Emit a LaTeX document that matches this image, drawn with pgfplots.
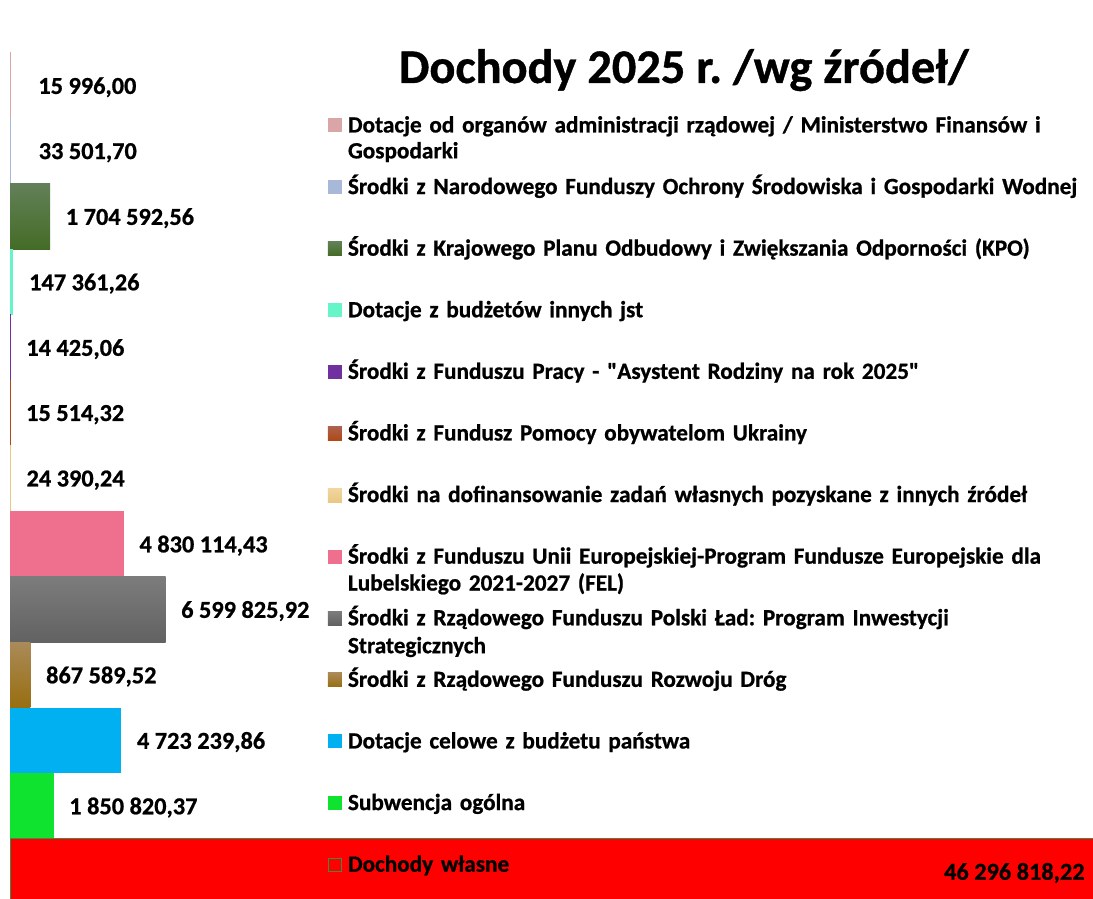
\documentclass[border=0pt]{standalone}
\usepackage{fontspec}
\setmainfont{Carlito}[BoldFeatures={FakeBold=0.8}]
\usepackage{pgfplots}
\pgfplotsset{compat=1.18}
\frenchspacing
\definecolor{cA}{RGB}{217,165,167}
\definecolor{cB}{RGB}{168,184,216}
\definecolor{cCt}{RGB}{98,128,88}
\definecolor{cCb}{RGB}{68,108,38}
\definecolor{cD}{RGB}{102,245,200}
\definecolor{cE}{RGB}{112,48,160}
\definecolor{cFt}{RGB}{172,98,78}
\definecolor{cFb}{RGB}{176,72,20}
\definecolor{cGt}{RGB}{242,214,160}
\definecolor{cGb}{RGB}{232,200,130}
\definecolor{cH}{RGB}{238,112,142}
\definecolor{cIt}{RGB}{124,124,124}
\definecolor{cIb}{RGB}{98,98,98}
\definecolor{cJt}{RGB}{170,138,88}
\definecolor{cJb}{RGB}{152,110,16}
\definecolor{cK}{RGB}{0,176,240}
\definecolor{cL}{RGB}{16,226,48}
\definecolor{cM}{RGB}{255,0,0}
\definecolor{cMedge}{RGB}{60,140,70}
\begin{document}
\begin{tikzpicture}
\path[use as bounding box] (-10bp,0) rectangle (1083bp,899bp);
\begin{axis}[
  at={(0,0)}, anchor=south west,
  scale only axis, width=1083bp, height=846bp,
  xmin=0, xmax=45960000, ymin=-0.42, ymax=12.5,
  clip=false,
  axis line style={draw=none}, ticks=none,
  xbar, bar width=1, bar shift=0,
  point meta=explicit symbolic,
  nodes near coords,
  every node near coord/.append style={font=\bfseries\fontsize{24.4}{28}\selectfont, inner sep=0pt, anchor=west, xshift=15.5bp, yshift=-1.5bp, text=black},
  title={Dochody 2025 r. /wg źródeł/},
  title style={at={(axis description cs:0.6222,0.9575)}, anchor=base, inner sep=0pt, font=\bfseries\fontsize{48.5}{52}\selectfont},
  legend image code/.code={\path[#1,draw=none] (0bp,-5bp) rectangle (14bp,9bp);},
  legend cell align=left,
  legend style={at={(axis description cs:0.2936,0.9238)}, anchor=north west, draw=none, fill=none, inner sep=0pt, outer sep=0pt, row sep=41.6bp, column sep=6bp,
    nodes={inner sep=0pt, text height=15bp, text depth=5bp, text width=760bp, align=left, font=\bfseries\fontsize{23.3}{27}\selectfont}},
]
\addplot[fill=cA, draw=cA, line width=1bp, every node near coord/.append style={xshift=12bp}] coordinates {(15996.00,12) [15 996,00]};
\addlegendentry{{Dotacje od organów administracji rządowej / Ministerstwo Finansów i\\[-1bp]Gospodarki}}
\addplot[fill=cB, draw=cB, line width=1bp, every node near coord/.append style={xshift=12bp}] coordinates {(33501.70,11) [33 501,70]};
\addlegendentry{Środki z Narodowego Funduszy Ochrony Środowiska i Gospodarki Wodnej}
\addplot[draw=none, top color=cCt, bottom color=cCb] coordinates {(1704592.56,10) [1 704 592,56]};
\addlegendentry{Środki z Krajowego Planu Odbudowy i Zwiększania Odporności (KPO)}
\addplot[fill=cD, draw=none] coordinates {(147361.26,9) [147 361,26]};
\addlegendentry{Dotacje z budżetów innych jst}
\addplot[fill=cE, draw=cE, line width=1bp] coordinates {(14425.06,8) [14 425,06]};
\addlegendentry{Środki z Funduszu Pracy - \textquotedbl Asystent Rodziny na rok 2025\textquotedbl}
\addplot[top color=cFt, bottom color=cFb, draw=cFb, line width=0.6bp] coordinates {(15514.32,7) [15 514,32]};
\addlegendentry{Środki z Fundusz Pomocy obywatelom Ukrainy}
\addplot[top color=cGt, bottom color=cGb, draw=cGb, line width=1bp] coordinates {(24390.24,6) [24 390,24]};
\addlegendentry{Środki na dofinansowanie zadań własnych pozyskane z innych źródeł}
\addplot[fill=cH, draw=none] coordinates {(4830114.43,5) [4 830 114,43]};
\addlegendentry{{Środki z Funduszu Unii Europejskiej-Program Fundusze Europejskie dla\\Lubelskiego 2021-2027 (FEL)}}
\addplot[draw=none, top color=cIt, bottom color=cIb] coordinates {(6599825.92,4) [6 599 825,92]};
\addlegendentry{{Środki z Rządowego Funduszu Polski Ład: Program Inwestycji\\[1bp]Strategicznych}}
\addplot[draw=none, top color=cJt, bottom color=cJb] coordinates {(867589.52,3) [867 589,52]};
\addlegendentry{Środki z Rządowego Funduszu Rozwoju Dróg}
\addplot[fill=cK, draw=none] coordinates {(4723239.86,2) [4 723 239,86]};
\addlegendentry{Dotacje celowe z budżetu państwa}
\addplot[fill=cL, draw=none] coordinates {(1850820.37,1) [1 850 820,37]};
\addlegendentry{Subwencja ogólna}
\addplot[fill=cM, draw=cMedge, line width=0.8bp,
  legend image code/.code={\draw[cMedge, line width=0.8bp, fill=none] (0.4bp,-4.6bp) rectangle (13.6bp,8.6bp);},
  every node near coord/.append style={anchor=east, xshift=-31.5bp}] coordinates {(46296818.22,0) [46 296 818,22]};
\addlegendentry{Dochody własne}
\end{axis}
\end{tikzpicture}
\end{document}
